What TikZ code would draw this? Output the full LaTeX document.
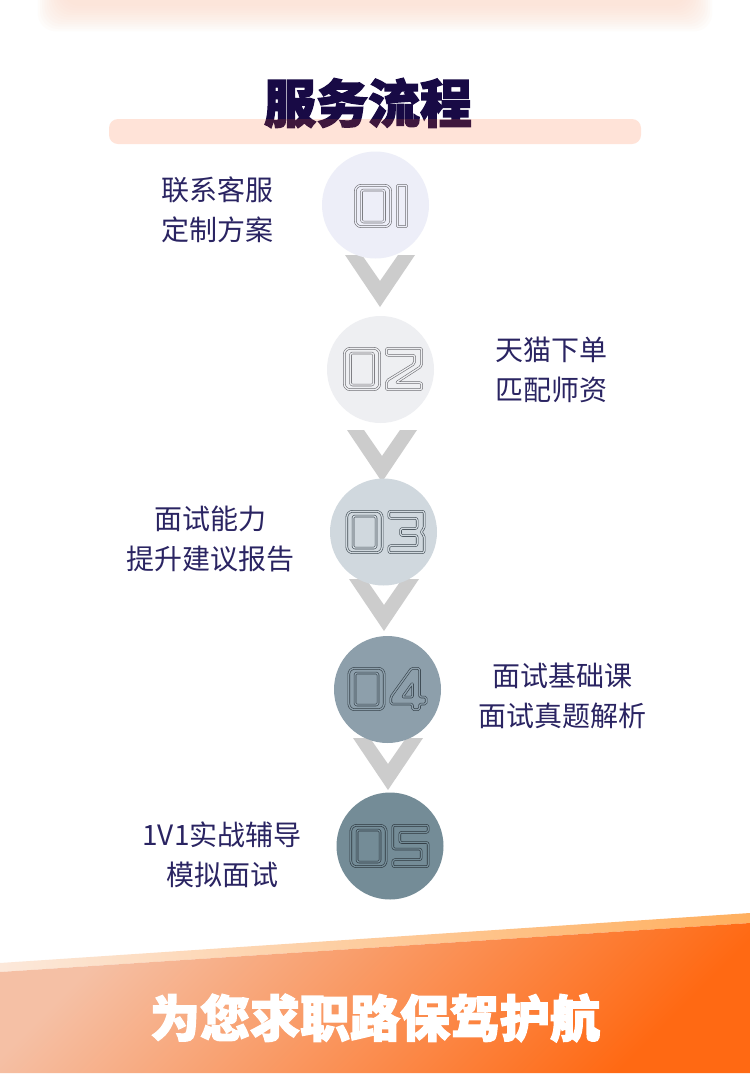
\documentclass[tikz,border=0pt]{standalone}
\usepackage{fontspec}
\newfontfamily\cjk{Noto Sans CJK SC}
\newfontfamily\cjkheavy{Noto Sans CJK SC}[BoldFeatures={FakeBold=2.5}]
\definecolor{navy}{HTML}{2A2462}
\definecolor{titlec}{HTML}{180A45}
\definecolor{barc}{HTML}{FF5A1A}
\definecolor{peach}{HTML}{FCD9C6}
\definecolor{c1}{HTML}{EDEEF8}
\definecolor{c2}{HTML}{EEEFF2}
\definecolor{c3}{HTML}{D0D8DE}
\definecolor{c4}{HTML}{8D9FAB}
\definecolor{c5}{HTML}{748C97}
\definecolor{d1}{HTML}{6E6E73}
\definecolor{d2}{HTML}{707075}
\definecolor{d3}{HTML}{3F4A52}
\definecolor{d4}{HTML}{36424A}
\definecolor{d5}{HTML}{2C363D}
\definecolor{chev}{HTML}{CCCCCC}
\definecolor{stripL}{HTML}{FCE8DA}
\definecolor{stripR}{HTML}{FFAF5E}
\definecolor{bandL}{HTML}{F5C0A5}
\definecolor{bandM}{HTML}{FB8A4E}
\definecolor{bandR}{HTML}{FF6913}
\tikzset{
  dig/.style 2 args={draw=#1, double=#2, line width=0.6pt, double distance=1.3pt, line join=round},
  stepcircle/.style={circle, inner sep=0pt, minimum size=107pt},
  lbl/.style={font=\cjk\fontsize{28pt}{40pt}\selectfont, text=navy, align=center, inner sep=0pt},
  chevshape/.style={fill=chev}
}
\newcommand\digZero[1]{%
  \draw[#1, rounded corners=6pt] (-17.7,-20.7) rectangle (17.7,20.7);
  \draw[#1, rounded corners=2pt] (-11.5,-16) rectangle (11.5,16);}
\newcommand\digOne[1]{%
  \draw[#1, rounded corners=1pt] (-4.7,-20.7) rectangle (4.7,20.7);}
\newcommand\digTwo[1]{%
  \draw[#1, rounded corners=2pt] (-17.7,20.7) -- (17.7,20.7) -- (17.7,3) -- (-8,-13.7) -- (17.7,-13.7) -- (17.7,-20.7) -- (-17.7,-20.7) -- (-17.7,-12) -- (10.7,5.5) -- (10.7,13.7) -- (-17.7,13.7) -- cycle;}
\newcommand\digThree[1]{%
  \draw[#1, rounded corners=2pt] (-17.7,20.7) -- (17.7,20.7) -- (17.7,3) -- (14,0) -- (17.7,-3) -- (17.7,-20.7) -- (-17.7,-20.7) -- (-17.7,-13.7) -- (10.7,-13.7) -- (10.7,-3.5) -- (-6,-3.5) -- (-6,3.5) -- (10.7,3.5) -- (10.7,13.7) -- (-17.7,13.7) -- cycle;}
\newcommand\digFour[1]{%
  \draw[#1, rounded corners=1.5pt] (3,20.7) -- (11,20.7) -- (11,-8) -- (17.7,-8) -- (17.7,-15) -- (11,-15) -- (11,-20.7) -- (4,-20.7) -- (4,-15) -- (-17.7,-15) -- (-17.7,-8) -- cycle;
  \draw[#1, rounded corners=1pt] (-6,-8) -- (4,-8) -- (4,6) -- cycle;}
\newcommand\digFive[1]{%
  \draw[#1, rounded corners=2pt] (17.7,20.7) -- (-17.7,20.7) -- (-17.7,-3) -- (10.7,-3) -- (10.7,-13.7) -- (-17.7,-13.7) -- (-17.7,-20.7) -- (17.7,-20.7) -- (17.7,3.5) -- (-10.7,3.5) -- (-10.7,13.7) -- (17.7,13.7) -- cycle;}
\newcommand\chevAt[2]{%
  \fill[chevshape] ({#1-35},#2) -- ({#1-18},#2) -- (#1,{#2+26}) -- ({#1+18},#2) -- ({#1+35},#2) -- (#1,{#2+52}) -- cycle;}
\begin{document}
\begin{tikzpicture}[x=1pt,y=-1pt]
\useasboundingbox (0,0) rectangle (750,1080);
\fill[white] (0,0) rectangle (750,1080);
% top shadow
\foreach \i in {0,...,11}{
  \fill[peach, opacity=0.07, rounded corners=18pt] ({62-2.2*\i},-40) rectangle ({688+2.2*\i},{6+2.3*\i});
}
% title
\node[font=\cjkheavy\bfseries\fontsize{52pt}{56pt}\selectfont, text=titlec, inner sep=0pt] (title) at (368,103) {服务流程};
\fill[barc, opacity=0.17, rounded corners=9pt] (109,119) rectangle (641,144);
% chevrons
\chevAt{380}{255}
\chevAt{382}{430}
\chevAt{384}{579}
\chevAt{388}{738}
% circles
\node[stepcircle, fill=c1] (s1) at (375.5,205) {};
\node[stepcircle, fill=c2] (s2) at (380.5,369.5) {};
\node[stepcircle, fill=c3] (s3) at (383.5,532) {};
\node[stepcircle, fill=c4] (s4) at (387.5,689.5) {};
\node[stepcircle, fill=c5] (s5) at (390,846) {};
% digits
\begin{scope}[shift={(373,206)}, yscale=-1]\digZero{dig={d1}{c1}}\end{scope}
\begin{scope}[shift={(402,206)}, yscale=-1]\digOne{dig={d1}{c1}}\end{scope}
\begin{scope}[shift={(362,369)}, yscale=-1]\digZero{dig={d2}{c2}}\end{scope}
\begin{scope}[shift={(404,369)}, yscale=-1]\digTwo{dig={d2}{c2}}\end{scope}
\begin{scope}[shift={(364.5,532)}, yscale=-1]\digZero{dig={d3}{c3}}\end{scope}
\begin{scope}[shift={(406.5,532)}, yscale=-1]\digThree{dig={d3}{c3}}\end{scope}
\begin{scope}[shift={(366.5,689)}, yscale=-1]\digZero{dig={d4}{c4}}\end{scope}
\begin{scope}[shift={(408.5,689)}, yscale=-1]\digFour{dig={d4}{c4}}\end{scope}
\begin{scope}[shift={(368.5,846)}, yscale=-1]\digZero{dig={d5}{c5}}\end{scope}
\begin{scope}[shift={(410.5,846)}, yscale=-1]\digFive{dig={d5}{c5}}\end{scope}
% labels
\node[lbl] (t1) at (217,209.5) {联系客服\\定制方案};
\node[lbl] (t2) at (551,369.5) {天猫下单\\匹配师资};
\node[lbl] (t3) at (210.5,539) {面试能力\\提升建议报告};
\node[lbl] (t4) at (562,696) {面试基础课\\面试真题解析};
\node[lbl] (t5) at (222,855) {1V1实战辅导\\模拟面试};
% bottom band
\shade[left color=stripL, right color=stripR] (0,963) -- (750,913) -- (750,923) -- (0,972) -- cycle;
\shade[left color=bandL, middle color=bandM, right color=bandR, shading angle=45] (0,972) -- (750,923) -- (750,1073) -- (0,1073) -- cycle;
\node[font=\cjkheavy\bfseries\fontsize{50pt}{54pt}\selectfont, text=white, inner sep=0pt] (slogan) at (375,1018) {为您求职路保驾护航};
\end{tikzpicture}
\end{document}
